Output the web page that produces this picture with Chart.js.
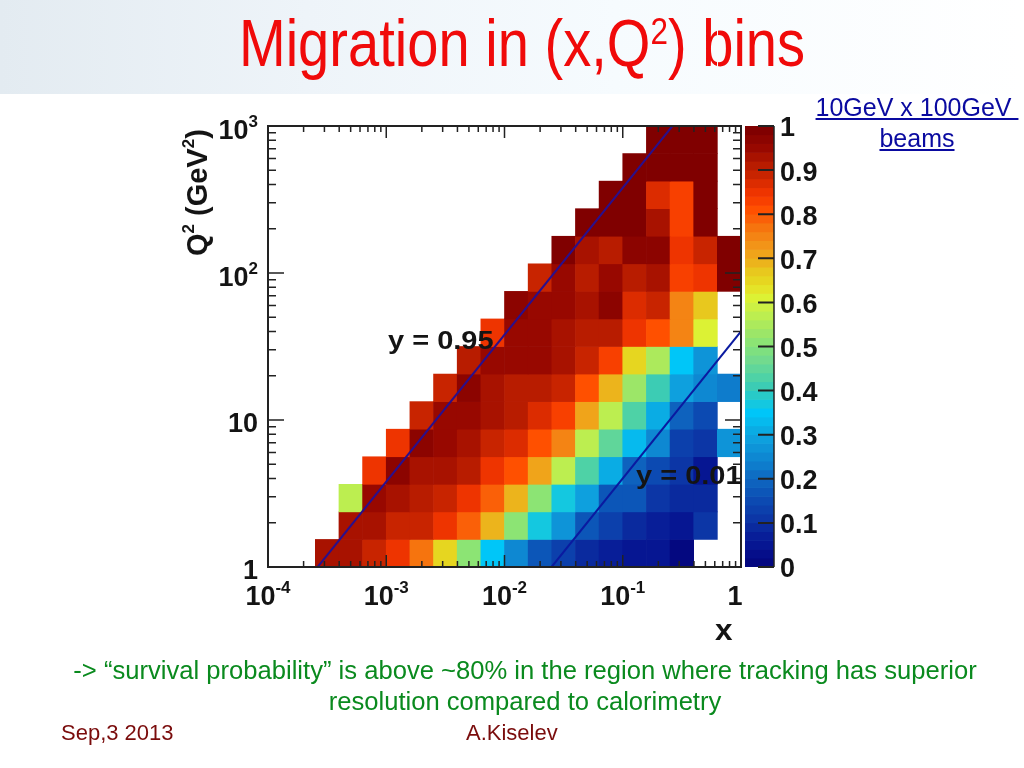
<!DOCTYPE html>
<html>
<head>
<meta charset="utf-8">
<title>Migration in (x,Q2) bins</title>
<script src="https://cdn.jsdelivr.net/npm/chart.js@4/dist/chart.umd.min.js"></script>
<style>
  html, body { margin: 0; padding: 0; background: #fff; }
  #slide { position: relative; width: 1024px; height: 768px; overflow: hidden; font-family: "Liberation Sans", Arial, sans-serif; }
  #band { position: absolute; left: 0; top: 0; width: 1024px; height: 94px; background: linear-gradient(90deg, #e3ebf1 0%, #eef4f9 30%, #f6fbfe 60%, #ffffff 100%); }
  canvas { position: absolute; }
  .line { position: absolute; white-space: nowrap; text-align: center; }
  #title { left: 0; width: 1044px; top: 5px; font-size: 66px; line-height: 76px; color: #f00a0a; transform: scaleX(0.85); transform-origin: 522px 0; }
  #title sup { font-size: 37px; line-height: 0; position: relative; top: 1px; vertical-align: super; }
  .beam { left: 810px; width: 214px; font-size: 25px; line-height: 28px; color: #0a0aa0; text-decoration: underline; }
  .note { left: 0; width: 1050px; font-size: 25.6px; line-height: 28px; color: #0a8a1e; }
  .foot { font-size: 22px; line-height: 26px; color: #7a0c0c; }
</style>
</head>
<body>
<div id="slide">
  <div id="band"></div>
  <canvas id="mapChart" width="1024" height="768" style="left:0;top:0"></canvas>
  <canvas id="barChart" width="324" height="768" style="left:700px;top:0"></canvas>
  <div class="line" id="title">Migration in (x,Q<sup>2</sup>) bins</div>
  <div class="line beam" style="top:93px">10GeV x 100GeV&nbsp;</div>
  <div class="line beam" style="top:124px">beams</div>
  <div class="line note" style="top:656px">-&gt; “survival probability” is above ~80% in the region where tracking has superior</div>
  <div class="line note" style="top:687px">resolution compared to calorimetry</div>
  <div class="line foot" style="left:61px;top:720px">Sep,3 2013</div>
  <div class="line foot" style="left:466px;top:720px">A.Kiselev</div>
</div>

<script>
// first filled x bin of each Q2 row, bottom row first
const rowStart = [2, 3, 3, 4, 5, 6, 7, 8, 9, 10, 11, 12, 13, 14, 15, 16];

// survival probability per row, left to right from rowStart
const row00 = [0.93, 0.92, 0.89, 0.85, 0.77, 0.65, 0.50, 0.34, 0.25, 0.17, 0.13, 0.09, 0.07, 0.05, 0.04, 0.01];
const row01 = [0.93, 0.92, 0.89, 0.88, 0.84, 0.78, 0.69, 0.50, 0.36, 0.26, 0.17, 0.12, 0.09, 0.07, 0.05, 0.10];
const row02 = [0.58, 0.94, 0.93, 0.91, 0.88, 0.85, 0.78, 0.69, 0.51, 0.36, 0.28, 0.17, 0.16, 0.11, 0.08, 0.09];
const row03 = [0.85, 0.96, 0.93, 0.92, 0.90, 0.85, 0.81, 0.70, 0.58, 0.42, 0.31, 0.18, 0.15, 0.10, 0.05];
const row04 = [0.85, 0.96, 0.94, 0.93, 0.89, 0.86, 0.81, 0.74, 0.58, 0.45, 0.32, 0.25, 0.13, 0.11, 0.26];
const row05 = [0.88, 0.95, 0.94, 0.92, 0.90, 0.86, 0.82, 0.71, 0.58, 0.42, 0.31, 0.18, 0.14];
const row06 = [0.88, 0.96, 0.93, 0.91, 0.90, 0.89, 0.80, 0.69, 0.53, 0.41, 0.29, 0.24, 0.22];
const row07 = [0.90, 0.95, 0.95, 0.95, 0.92, 0.88, 0.83, 0.65, 0.54, 0.34, 0.27];
const row08 = [0.85, 0.94, 0.94, 0.93, 0.90, 0.91, 0.85, 0.81, 0.75, 0.60];
const row09 = [0.96, 0.95, 0.95, 0.92, 0.97, 0.87, 0.88, 0.75, 0.66];
const row10 = [0.88, 0.94, 0.91, 0.95, 0.91, 0.92, 0.83, 0.85, 0.98];
const row11 = [0.98, 0.92, 0.90, 0.97, 0.96, 0.85, 0.89, 0.98];
const row12 = [0.98, 0.98, 0.98, 0.92, 0.83, 0.99];
const row13 = [0.99, 0.99, 0.87, 0.82, 0.99];
const row14 = [0.99, 0.99, 0.99, 0.99];
const row15 = [0.99, 0.99, 0.99];
const rows = [row00, row01, row02, row03, row04, row05, row06, row07, row08, row09, row10, row11, row12, row13, row14, row15];

// kinematic limits drawn over the map
const lineY095 = [{ x: 0.000263, y: 1 }, { x: 0.263, y: 1000 }];
const lineY001 = [{ x: 0.025, y: 1 }, { x: 1, y: 40 }];

// axis labels
const xMajorTicks = [0.0001, 0.001, 0.01, 0.1, 1];
const xTickBase = ['10', '10', '10', '10', '1'];
const xTickExp = ['-4', '-3', '-2', '-1', ''];
const yMajorTicks = [1, 10, 100, 1000];
const yTickBase = ['1', '10', '10', '10'];
const yTickExp = ['', '', '2', '3'];
const minorSteps = [2, 3, 4, 5, 6, 7, 8, 9];
const barTicks = [0, 0.1, 0.2, 0.3, 0.4, 0.5, 0.6, 0.7, 0.8, 0.9, 1];

// colour bar, 50 steps from 0 to 1
const palette = [
  '#040880', '#050e8a', '#061692', '#081e98', '#0a2a9e', '#0c36a6', '#0c40ac', '#0c4ab2', '#0c56b8', '#0e62be',
  '#0e6ec4', '#0e7ccc', '#0e88d2', '#0e94d8', '#0ea0de', '#0aace4', '#06baee', '#00c6f8', '#14c8e0', '#28cac8',
  '#3cccb4', '#4ed2a6', '#60d69a', '#72da8e', '#7ee080', '#8ce474', '#9ce668', '#acea5c', '#bcee50', '#ccf044',
  '#dcf234', '#e4e428', '#e6d620', '#e8c81e', '#ecb41c', '#f0a41a', '#f29418', '#f48414', '#f6740e', '#fa6008',
  '#ff5000', '#f84000', '#ee3400', '#dc2c00', '#c82400', '#b81c00', '#a81200', '#980800', '#8c0400', '#800000'
];

const colourOf = v => palette[Math.min(palette.length - 1, Math.floor(v * palette.length))];

// bins: 5 per decade in x, 16 over 3 decades in Q2
const cells = [];
const cellColours = [];
rows.forEach((values, r) => {
  values.forEach((v, i) => {
    const col = rowStart[r] + i;
    cells.push({ x: Math.pow(10, -4 + 0.2 * (col + 0.5)), y: [Math.pow(10, 3 * r / 16), Math.pow(10, 3 * (r + 1) / 16)], v: v });
    cellColours.push(colourOf(v));
  });
});

const TEXT = '#141414';

function spacedText(ctx, text, x, y, size, stretch) {
  ctx.save();
  ctx.translate(x, y);
  ctx.scale(stretch, 1);
  ctx.font = 'bold ' + size + 'px "Liberation Sans"';
  ctx.fillText(text, 0, 0);
  ctx.restore();
}

// "10" with a raised exponent, anchored on its centre or right edge
function powerLabel(ctx, base, exp, x, y, anchor) {
  ctx.font = 'bold 27px "Liberation Sans"';
  const bw = ctx.measureText(base).width;
  ctx.font = 'bold 17px "Liberation Sans"';
  const ew = exp ? ctx.measureText(exp).width : 0;
  const left = anchor === 'right' ? x - bw - ew : x - (bw + ew) / 2;
  ctx.font = 'bold 27px "Liberation Sans"';
  ctx.fillText(base, left, y);
  if (exp) {
    ctx.font = 'bold 17px "Liberation Sans"';
    ctx.fillText(exp, left + bw, y - 12);
  }
}

const framePlugin = {
  id: 'frame',
  afterDatasetsDraw(chart) {
    const { ctx, chartArea: a, scales } = chart;
    ctx.save();
    ctx.strokeStyle = '#222';
    ctx.lineWidth = 1.5;
    ctx.beginPath();
    xMajorTicks.forEach((t, i) => {
      const major = scales.x.getPixelForValue(t);
      ctx.moveTo(major, a.bottom); ctx.lineTo(major, a.bottom - 12);
      ctx.moveTo(major, a.top); ctx.lineTo(major, a.top + 12);
      if (i === xMajorTicks.length - 1) return;
      minorSteps.forEach(m => {
        const p = scales.x.getPixelForValue(t * m);
        ctx.moveTo(p, a.bottom); ctx.lineTo(p, a.bottom - 6);
        ctx.moveTo(p, a.top); ctx.lineTo(p, a.top + 6);
      });
    });
    yMajorTicks.forEach((t, i) => {
      const major = scales.y.getPixelForValue(t);
      ctx.moveTo(a.left, major); ctx.lineTo(a.left + 16, major);
      ctx.moveTo(a.right, major); ctx.lineTo(a.right - 16, major);
      if (i === yMajorTicks.length - 1) return;
      minorSteps.forEach(m => {
        const p = scales.y.getPixelForValue(t * m);
        ctx.moveTo(a.left, p); ctx.lineTo(a.left + 8, p);
        ctx.moveTo(a.right, p); ctx.lineTo(a.right - 8, p);
      });
    });
    ctx.stroke();
    ctx.strokeStyle = '#222';
    ctx.lineWidth = 2;
    ctx.strokeRect(a.left, a.top, a.right - a.left, a.bottom - a.top);

    ctx.fillStyle = TEXT;
    ctx.textBaseline = 'alphabetic';
    ctx.textAlign = 'left';
    xMajorTicks.forEach((t, i) => {
      const p = scales.x.getPixelForValue(t);
      powerLabel(ctx, xTickBase[i], xTickExp[i], i === 4 ? p - 6 : p, 605, 'centre');
    });
    yMajorTicks.forEach((t, i) => {
      const p = scales.y.getPixelForValue(t);
      powerLabel(ctx, yTickBase[i], yTickExp[i], 258, p + (yTickExp[i] ? 13 : 12), 'right');
    });

    // axis titles
    spacedText(ctx, 'x', 715, 640, 30, 1.05);
    ctx.save();
    ctx.translate(207, 256);
    ctx.rotate(-Math.PI / 2);
    ctx.font = 'bold 29px "Liberation Sans"';
    let cur = 0;
    ctx.fillText('Q', cur, 0); cur += ctx.measureText('Q').width;
    ctx.font = 'bold 17px "Liberation Sans"';
    ctx.fillText('2', cur, -13); cur += ctx.measureText('2').width + 8;
    ctx.font = 'bold 29px "Liberation Sans"';
    ctx.fillText('(GeV', cur, 0); cur += ctx.measureText('(GeV').width;
    ctx.font = 'bold 17px "Liberation Sans"';
    ctx.fillText('2', cur, -13); cur += ctx.measureText('2').width;
    ctx.font = 'bold 29px "Liberation Sans"';
    ctx.fillText(')', cur, 0);
    ctx.restore();

    // line annotations
    spacedText(ctx, 'y = 0.95', 388, 349, 25, 1.16);
    spacedText(ctx, 'y = 0.01', 636, 484, 25, 1.16);
    ctx.restore();
  }
};

new Chart(document.getElementById('mapChart'), {
  type: 'bar',
  data: {
    datasets: [
      { type: 'line', data: lineY095, borderColor: '#2a0f8c', borderWidth: 2, pointRadius: 0, order: 0 },
      { type: 'line', data: lineY001, borderColor: '#0a1aa0', borderWidth: 2, pointRadius: 0, order: 0 },
      { data: cells, backgroundColor: cellColours, barThickness: 23.65, borderWidth: 0, order: 1 }
    ]
  },
  options: {
    responsive: false,
    animation: false,
    layout: { padding: { left: 268, right: 283, top: 126, bottom: 201 } },
    plugins: { legend: { display: false }, tooltip: { enabled: false }, title: { display: false } },
    scales: {
      x: { type: 'logarithmic', min: 0.0001, max: 1, offset: false, grid: { display: false, drawTicks: false }, border: { display: false }, ticks: { display: false } },
      y: { type: 'logarithmic', min: 1, max: 1000, grid: { display: false, drawTicks: false }, border: { display: false }, ticks: { display: false } }
    }
  },
  plugins: [framePlugin]
});

// colour bar
const barSteps = palette.map((c, i) => ({ x: 'z', y: [i / palette.length, (i + 1) / palette.length] }));

const barTicksPlugin = {
  id: 'barTicks',
  afterDatasetsDraw(chart) {
    const { ctx, chartArea: a, scales } = chart;
    ctx.save();
    ctx.strokeStyle = '#222';
    ctx.lineWidth = 2;
    ctx.beginPath();
    barTicks.forEach(t => {
      const p = scales.y.getPixelForValue(t);
      ctx.moveTo(a.right, p); ctx.lineTo(a.right - 16, p);
    });
    ctx.stroke();
    ctx.lineWidth = 1.5;
    ctx.beginPath();
    ctx.moveTo(a.right, a.top); ctx.lineTo(a.right, a.bottom);
    ctx.stroke();
    ctx.restore();
  }
};

new Chart(document.getElementById('barChart'), {
  type: 'bar',
  data: {
    labels: ['z'],
    datasets: [{ data: barSteps, backgroundColor: palette, barPercentage: 1, categoryPercentage: 1, borderWidth: 0 }]
  },
  options: {
    responsive: false,
    animation: false,
    layout: { padding: { left: 45, right: 200, top: 126, bottom: 201 } },
    plugins: { legend: { display: false }, tooltip: { enabled: false } },
    scales: {
      x: { display: false },
      y: {
        position: 'right',
        min: 0,
        max: 1,
        afterFit(s) { s.width = 50; },
        afterBuildTicks(s) { s.ticks = barTicks.map(v => ({ value: v })); },
        grid: { display: false, drawTicks: false },
        border: { display: false },
        ticks: {
          padding: 6,
          labelOffset: 3,
          color: TEXT,
          font: { family: 'Liberation Sans', weight: 'bold', size: 27 },
          callback: v => String(v)
        }
      }
    }
  },
  plugins: [barTicksPlugin]
});
</script>
</body>
</html>
